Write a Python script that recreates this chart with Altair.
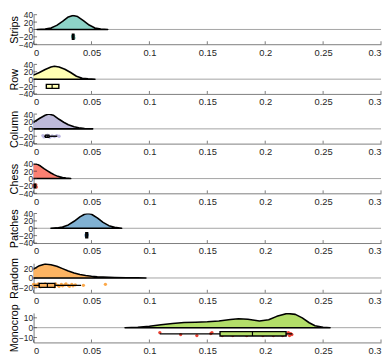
import altair as alt
import pandas as pd

# ---------------- data ----------------
names = ["Strips", "Row", "Column", "Chess", "Patches", "Random", "Monocrop"]
cloud_colors = ["#8dd3c7", "#ffffb3", "#bebada", "#fb8072", "#80b1d3", "#fdb462", "#b3de69"]
point_colors = ["#5fb3a5", "#e6e08a", "#b9b4e0", "#f0604e", "#5f95c2", "#fca33f", "#ec3a2a"]
y_limits = [40, 40, 40, 40, 40, 30, 15]
y_ticks = [[-40, -20, 0, 20, 40]] * 5 + [[-20, 0, 20], [-10, 0, 10]]
x_ticks = [0, 0.05, 0.1, 0.15, 0.2, 0.25, 0.3]

# density clouds (x, density scaled to panel units)
dens_x = [
    [0.003, 0.010, 0.015, 0.020, 0.025, 0.030, 0.034, 0.038, 0.043, 0.048, 0.053, 0.058, 0.064],
    [-0.005, 0.0, 0.005, 0.010, 0.015, 0.018, 0.022, 0.027, 0.032, 0.037, 0.042, 0.047, 0.053],
    [-0.005, 0.0, 0.005, 0.010, 0.013, 0.017, 0.022, 0.026, 0.030, 0.035, 0.039, 0.044, 0.051],
    [-0.005, 0.0, 0.003, 0.006, 0.009, 0.012, 0.015, 0.018, 0.021, 0.025, 0.028, 0.032],
    [0.015, 0.020, 0.025, 0.030, 0.035, 0.040, 0.044, 0.047, 0.050, 0.055, 0.060, 0.065, 0.070, 0.076],
    [-0.005, 0.0, 0.005, 0.010, 0.015, 0.020, 0.025, 0.030, 0.035, 0.040, 0.045, 0.050, 0.055,
     0.060, 0.065, 0.070, 0.080, 0.090, 0.097],
    [0.079, 0.090, 0.100, 0.110, 0.120, 0.130, 0.140, 0.150, 0.160, 0.170, 0.177, 0.185, 0.195,
     0.203, 0.210, 0.219, 0.226, 0.232, 0.238, 0.243, 0.250, 0.256],
]
dens_y = [
    [0, 1.3, 4, 11, 22, 34, 38, 35, 24, 12, 4, 1.2, 0],
    [6, 11, 18, 26, 33, 35, 33, 27, 18, 8, 2.5, 0.7, 0],
    [10, 18, 28, 37, 40, 37, 26, 18, 11, 5.5, 3, 1, 0],
    [38, 40, 39, 34, 27, 21, 15, 10, 6, 3, 1.2, 0],
    [0, 1, 3.5, 9, 19, 31, 38, 40, 38, 28, 16, 7, 2.5, 0],
    [12, 18, 25, 28.5, 27, 24, 19, 14, 10, 7, 5, 3.5, 2.6, 2, 1.5, 1.1, 0.6, 0.2, 0],
    [0, 0.5, 1.5, 3, 4.3, 5.2, 5.6, 6, 6.8, 8.3, 9, 8.5, 6.8, 8, 11.5, 14.5, 13.5, 10, 5, 2, 0.5, 0],
]

# jittered raw points
pts_x = [
    [0.0336, 0.0340, 0.0343, 0.0346, 0.0349],
    [0.012, 0.014, 0.016, 0.018, 0.020],
    [0.008, 0.009, 0.011, 0.012, 0.014, 0.016, 0.018, 0.020, 0.022],
    [0.0005, 0.0010, 0.0015, 0.0020, 0.0025],
    [0.0452, 0.0456, 0.0460, 0.0464],
    [0.000, 0.001, 0.002, 0.003, 0.004, 0.005, 0.006, 0.007, 0.008, 0.009, 0.010, 0.011, 0.012,
     0.013, 0.014, 0.016, 0.018, 0.019, 0.021, 0.022, 0.024, 0.025, 0.027, 0.028, 0.030, 0.031,
     0.033, 0.034, 0.036, 0.043, 0.062],
    [0.109, 0.127, 0.141, 0.153, 0.154, 0.163, 0.167, 0.170, 0.172, 0.175, 0.178, 0.181, 0.184,
     0.187, 0.190, 0.195, 0.198, 0.201, 0.204, 0.207, 0.209, 0.211, 0.213, 0.215, 0.217, 0.218,
     0.220, 0.221, 0.222, 0.223],
]
pts_y = [
    [-18, -22, -20, -17, -23],
    [-17, -22, -19, -21, -18],
    [-18, -22, -20, -17, -23, -19, -21, -18, -20],
    [-18, -22, -20, -17, -23],
    [-18, -22, -20, -17],
    [-13, -16, -14, -17, -12, -15, -18, -13, -16, -14, -12, -17, -15, -13, -16, -14, -18, -12,
     -15, -17, -13, -16, -14, -12, -15, -17, -13, -16, -14, -15, -13],
    [-5, -7, -8, -6, -5, -8, -6, -7, -8, -6, -7, -5, -8, -6, -7, -6, -8, -7, -5, -8, -6, -7, -5,
     -8, -6, -7, -5, -8, -6, -7],
]

# box plot statistics
q1 = [0.0335, 0.0110, 0.0103, 0.0006, 0.0451, 0.0048, 0.161]
med = [0.0341, 0.0160, 0.0118, 0.0012, 0.0459, 0.0119, 0.189]
q3 = [0.0348, 0.0218, 0.0133, 0.0018, 0.0467, 0.0184, 0.218]
wlo = [0.0333, 0.0110, 0.0092, 0.0004, 0.0449, 0.0000, 0.109]
whi = [0.0350, 0.0218, 0.0204, 0.0022, 0.0469, 0.0410, 0.2234]

# box vertical placement (panel units)
box_lo = [-27, -25, -23, -25, -26, -19, -8.5]
box_hi = [-13, -14, -17, -15, -12, -11, -4]

# ---------------- layout ----------------
W = 353
H = 30
FONT = "Liberation Sans"
AX = "#262626"


def panel(i):
    ys = alt.Scale(domain=[-y_limits[i], y_limits[i]], nice=False, zero=False)
    xs = alt.Scale(domain=[0, 0.3], nice=False, zero=False)
    ttl = names[i]
    xaxis = alt.Axis(values=x_ticks, format="~g", title=None)
    yaxis = alt.Axis(values=y_ticks[i], title=ttl)

    def X(f):
        return alt.X(f, scale=xs, axis=xaxis)

    def Y(f):
        return alt.Y(f, scale=ys, axis=yaxis)

    dens = pd.DataFrame({"x": dens_x[i], "y": dens_y[i]})
    pts = pd.DataFrame({"x": pts_x[i], "y": pts_y[i]})
    box = pd.DataFrame({"q1": [q1[i]], "med": [med[i]], "q3": [q3[i]],
                        "wlo": [wlo[i]], "whi": [whi[i]],
                        "lo": [box_lo[i]], "hi": [box_hi[i]],
                        "mid": [(box_lo[i] + box_hi[i]) / 2]})
    zero = pd.DataFrame({"z": [0]})
    xt = pd.DataFrame({"t": x_ticks})
    yt = pd.DataFrame({"t": y_ticks[i]})

    zero_line = alt.Chart(zero).mark_rule(color="#8c8c8c", strokeWidth=0.8).encode(
        y=Y("z:Q"))
    area = alt.Chart(dens).mark_area(
        clip=True, fill=cloud_colors[i], stroke="black", strokeWidth=1.6,
        strokeJoin="round").encode(x=X("x:Q"), y=Y("y:Q"))
    points = alt.Chart(pts).mark_circle(
        size=11, color=point_colors[i], opacity=0.95).encode(x=X("x:Q"), y=Y("y:Q"))
    whisk = alt.Chart(box).mark_rule(color="black", strokeWidth=1.4).encode(
        x=X("wlo:Q"), x2="whi:Q", y=Y("mid:Q"))
    rect = alt.Chart(box).mark_rect(
        fill=cloud_colors[i], stroke="black", strokeWidth=1.4).encode(
        x=X("q1:Q"), x2="q3:Q", y=Y("lo:Q"), y2="hi:Q")
    median = alt.Chart(box).mark_rule(color="black", strokeWidth=1.2).encode(
        x=X("med:Q"), y=Y("lo:Q"), y2="hi:Q")
    xtick = alt.Chart(xt).mark_rule(color=AX, strokeWidth=0.6).encode(
        x=X("t:Q"), y=alt.value(H), y2=alt.value(H - 3))
    ytick = alt.Chart(yt).mark_rule(color=AX, strokeWidth=0.6).encode(
        y=Y("t:Q"), x=alt.value(0), x2=alt.value(3.5))

    return alt.layer(zero_line, area, points, whisk, rect, median, xtick, ytick).properties(
        width=W, height=H)


chart = alt.vconcat(*[panel(i) for i in range(len(names))], spacing=20.5,
                    bounds="flush").properties(
    padding={"left": 0, "top": 0, "right": 0, "bottom": 0}
).configure_view(stroke=None).configure_axis(
    labelFont=FONT, labelFontSize=9.5, labelColor=AX,
    titleFont=FONT, titleFontSize=11, titleFontWeight="normal", titleColor="#000000",
    domainColor=AX, domainWidth=0.6, ticks=False, grid=False,
).configure_axisX(labelPadding=3).configure_axisY(
    labelPadding=1, titlePadding=-1, labelOverlap=False, labelFontSize=8.5)

chart.save("out.html", embed_options={"renderer": "svg", "actions": False})
